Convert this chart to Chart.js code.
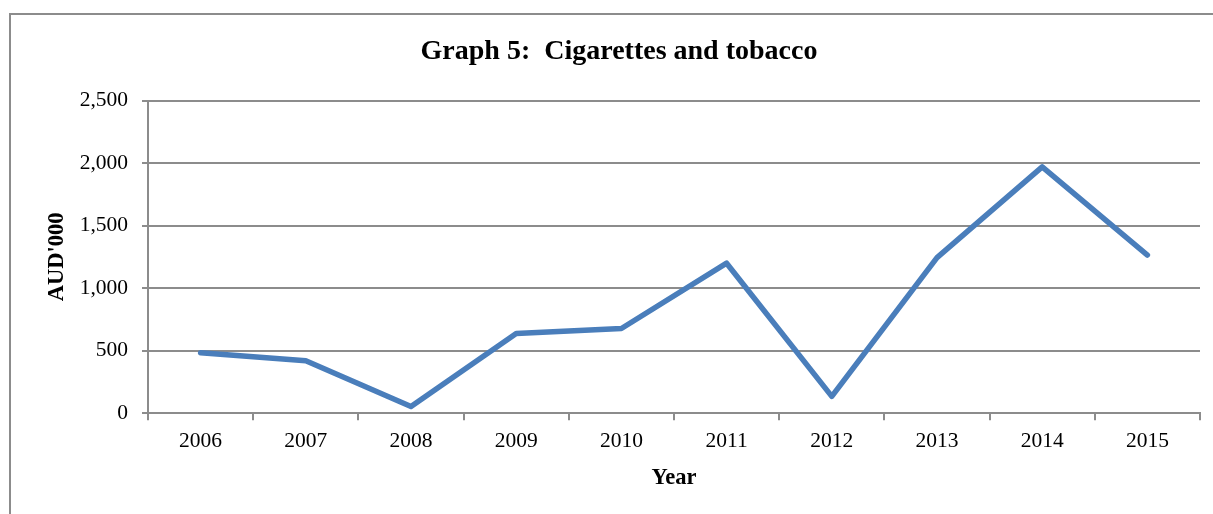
<!DOCTYPE html>
<html>
<head>
<meta charset="utf-8">
<script src="https://cdn.jsdelivr.net/npm/chart.js@4"></script>
<style>
  html, body { margin: 0; padding: 0; background: #fff; overflow: hidden; }
  #wrap { position: absolute; left: 0; top: 0; width: 1213px; height: 514px; }
  #frame { position: absolute; left: 9px; top: 13px; width: 1300px; height: 600px; border: 2px solid #8c8c8c; box-sizing: border-box; }
  canvas { position: absolute; left: 0; top: 0; }
</style>
</head>
<body>
<div id="wrap">
  <div id="frame"></div>
  <canvas id="c" width="1213" height="514"></canvas>
</div>
<script>
const chartTitle = "Graph 5:  Cigarettes and tobacco";
const xAxisTitle = "Year";
const yAxisTitle = "AUD'000";
const categories = ["2006", "2007", "2008", "2009", "2010", "2011", "2012", "2013", "2014", "2015"];
const values = [485, 420, 55, 638, 678, 1200, 135, 1245, 1970, 1265];
const yMin = 0;
const yMax = 2500;
const yStep = 500;

const serif = "'Liberation Serif', 'DejaVu Serif', serif";
const gridColor = '#8c8c8c';

new Chart(document.getElementById('c'), {
  type: 'line',
  data: {
    labels: categories,
    datasets: [{
      data: values,
      borderColor: '#4a7ebb',
      borderWidth: 5.5,
      pointRadius: 0,
      tension: 0,
      fill: false,
      borderCapStyle: 'round',
      borderJoinStyle: 'round'
    }]
  },
  options: {
    responsive: false,
    animation: false,
    devicePixelRatio: 1,
    layout: { padding: { left: 38, right: 13, top: 0, bottom: 0 } },
    plugins: {
      legend: { display: false },
      tooltip: { enabled: false },
      title: {
        display: true,
        text: chartTitle,
        color: '#000',
        font: { family: serif, size: 28, weight: 'bold' },
        padding: { top: 35, bottom: 32 }
      }
    },
    scales: {
      x: {
        type: 'category',
        offset: true,
        grid: { offset: true, drawOnChartArea: false, drawTicks: true, tickLength: 7, color: gridColor, lineWidth: 2 },
        border: { display: true, color: gridColor, width: 2 },
        ticks: { color: '#000', font: { family: serif, size: 21.5 }, padding: 8, maxRotation: 0 },
        title: { display: true, text: xAxisTitle, color: '#000', font: { family: serif, size: 22.5, weight: 'bold' }, padding: { top: 6, bottom: 22 } },
        afterFit: (s) => { s.height = 100.7; }
      },
      y: {
        min: yMin,
        max: yMax,
        grid: { color: gridColor, lineWidth: 2, drawTicks: true, tickLength: 6 },
        border: { display: true, color: gridColor, width: 2 },
        ticks: {
          stepSize: yStep,
          color: '#000',
          font: { family: serif, size: 21.5 },
          padding: 14,
          callback: (v) => v.toLocaleString('en-US')
        },
        title: { display: true, text: yAxisTitle, color: '#000', font: { family: serif, size: 22.5, weight: 'bold' }, padding: 6 },
        afterFit: (s) => { s.width = 110; }
      }
    }
  }
});
</script>
</body>
</html>
